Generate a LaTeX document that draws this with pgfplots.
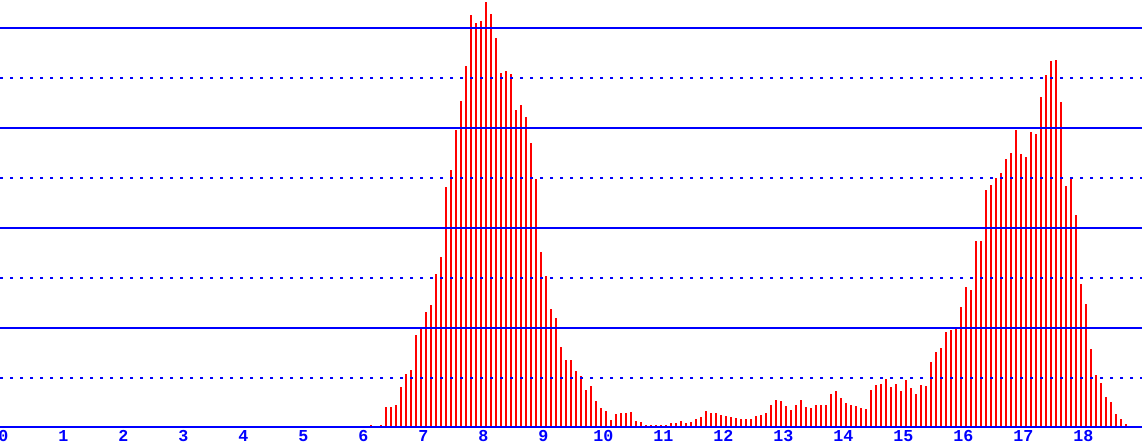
\documentclass[border=0pt]{standalone}
\usepackage{pgfplots}
\pgfplotsset{compat=1.18}
\usepackage{pgfplotstable}
\usepackage{fontspec}
\newfontfamily\tickfont{Liberation Mono}

\definecolor{gridblue}{rgb}{0,0,1}
\definecolor{barred}{rgb}{1,0,0}

% bin centre, bar height (one unit = one grid step)
\pgfplotstableread{
x y
6.125 0.06
6.208 0.04
6.292 0.06
6.375 0.41
6.458 0.41
6.542 0.46
6.625 0.81
6.708 1.08
6.792 1.15
6.875 1.86
6.958 1.99
7.042 2.32
7.125 2.45
7.208 3.08
7.292 3.41
7.375 4.82
7.458 5.16
7.542 5.96
7.625 6.54
7.708 7.24
7.792 8.26
7.875 8.10
7.958 8.14
8.042 8.52
8.125 8.28
8.208 7.80
8.292 7.10
8.375 7.14
8.458 7.08
8.542 6.36
8.625 6.46
8.708 6.21
8.792 5.70
8.875 4.98
8.958 3.52
9.042 3.04
9.125 2.38
9.208 2.20
9.292 1.62
9.375 1.36
9.458 1.36
9.542 1.13
9.625 1.04
9.708 0.75
9.792 0.84
9.875 0.54
9.958 0.39
10.042 0.34
10.125 0.16
10.208 0.28
10.292 0.30
10.375 0.30
10.458 0.32
10.542 0.14
10.625 0.12
10.708 0.06
10.792 0.06
10.875 0.06
10.958 0.06
11.042 0.06
11.125 0.10
11.208 0.10
11.292 0.14
11.375 0.10
11.458 0.12
11.542 0.18
11.625 0.22
11.708 0.34
11.792 0.30
11.875 0.30
11.958 0.26
12.042 0.24
12.125 0.22
12.208 0.20
12.292 0.18
12.375 0.18
12.458 0.18
12.542 0.24
12.625 0.26
12.708 0.30
12.792 0.46
12.875 0.56
12.958 0.54
13.042 0.44
13.125 0.36
13.208 0.46
13.292 0.56
13.375 0.42
13.458 0.40
13.542 0.46
13.625 0.46
13.708 0.46
13.792 0.68
13.875 0.74
13.958 0.60
14.042 0.50
14.125 0.46
14.208 0.44
14.292 0.40
14.375 0.38
14.458 0.76
14.542 0.86
14.625 0.88
14.708 0.98
14.792 0.82
14.875 0.88
14.958 0.74
15.042 0.96
15.125 0.80
15.208 0.68
15.292 0.86
15.375 0.84
15.458 1.32
15.542 1.52
15.625 1.60
15.708 1.92
15.792 1.96
15.875 1.98
15.958 2.42
16.042 2.82
16.125 2.76
16.208 3.74
16.292 3.74
16.375 4.76
16.458 4.86
16.542 5.00
16.625 5.10
16.708 5.38
16.792 5.50
16.875 5.96
16.958 5.48
17.042 5.42
17.125 5.92
17.208 5.88
17.292 6.62
17.375 7.06
17.458 7.34
17.542 7.36
17.625 6.52
17.708 4.84
17.792 5.00
17.875 4.26
17.958 2.88
18.042 2.48
18.125 1.58
18.208 1.06
18.292 0.90
18.375 0.62
18.458 0.52
18.542 0.28
18.625 0.18
18.708 0.08
18.792 0.04
18.875 0.04
18.958 0.04
}\histdata

\begin{document}
\begin{tikzpicture}
\begin{axis}[
    scale only axis,
    width=856.5pt,
    height=321pt,
    xmin=-0.055, xmax=18.978,
    ymin=0, ymax=8.56,
    clip=false,
    axis line style={draw=none},
    xtick={0,1,2,3,4,5,6,7,8,9,10,11,12,13,14,15,16,17,18},
    xticklabels={0,1,2,3,4,5,6,7,8,9,10,11,12,13,14,15,16,17,18},
    xtick pos=bottom,
    major tick length=0pt,
    xticklabel style={font=\tickfont\bfseries\fontsize{12.5}{12.5}\selectfont,
        text=gridblue, anchor=base, yshift=-10.5pt, inner sep=0pt},
    ytick=\empty,
    rule/.style={draw=gridblue, line width=1pt, mark=none, forget plot},
    dashedrule/.style={rule, dash pattern=on 2.25pt off 5.25pt},
]
\addplot[barred, ycomb, line width=1.65pt, line cap=butt, mark=none] table[x=x, y=y] {\histdata};
% grid rules over the bars: solid every 2 units, dashed in between
\addplot[rule, line width=1.5pt] coordinates {(-0.055,0.02) (18.978,0.02)};
\addplot[rule] coordinates {(-0.055,2) (18.978,2)};
\addplot[rule] coordinates {(-0.055,4) (18.978,4)};
\addplot[rule] coordinates {(-0.055,6) (18.978,6)};
\addplot[rule] coordinates {(-0.055,8) (18.978,8)};
\addplot[dashedrule] coordinates {(-0.055,1) (18.978,1)};
\addplot[dashedrule] coordinates {(-0.055,3) (18.978,3)};
\addplot[dashedrule] coordinates {(-0.055,5) (18.978,5)};
\addplot[dashedrule] coordinates {(-0.055,7) (18.978,7)};
\end{axis}
\pgfresetboundingbox
\path (0,-15pt) rectangle (856.5pt,321pt);
\end{tikzpicture}
\end{document}
